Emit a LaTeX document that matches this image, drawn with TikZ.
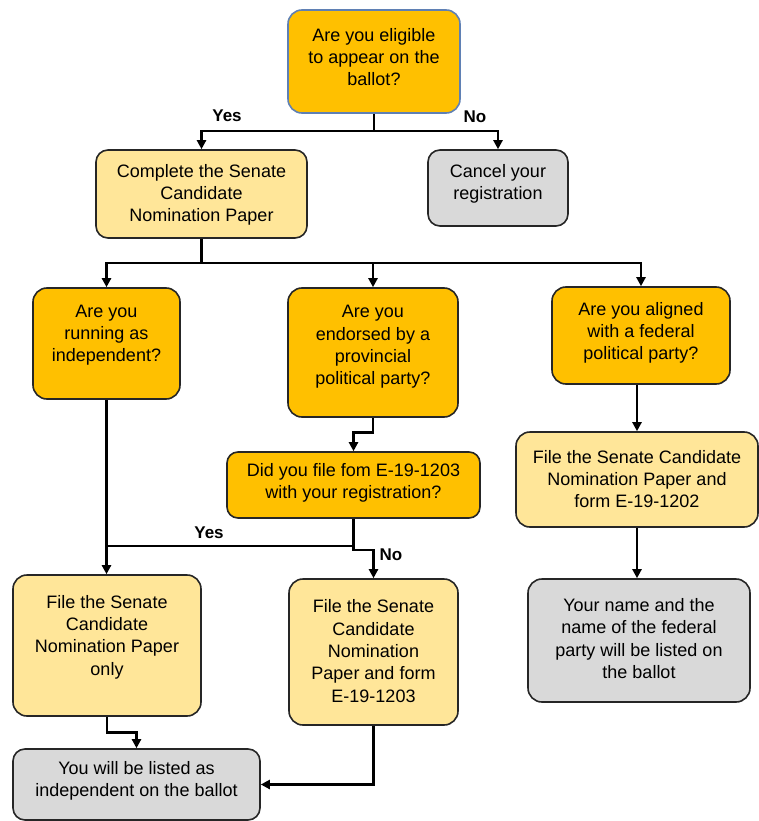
\documentclass[tikz,border=0pt]{standalone}
\usepackage{fontspec}
\setmainfont{Liberation Sans}
\usetikzlibrary{arrows.meta}
\definecolor{gold}{HTML}{FFC000}
\definecolor{lightgold}{HTML}{FFE699}
\definecolor{boxgray}{HTML}{D9D9D9}
\definecolor{edge}{HTML}{262626}
\definecolor{blueedge}{RGB}{95,128,180}
\tikzset{
  box/.style={draw=edge, line width=1.6pt, rounded corners=14pt, inner sep=0pt},
  qbox/.style={box, fill=gold},
  fbox/.style={box, fill=lightgold},
  gbox/.style={box, fill=boxgray},
  txt/.style={align=center, inner sep=0pt, font=\fontsize{18}{22.3}\selectfont, text=black},
  lbl/.style={inner sep=0pt, font=\bfseries\fontsize{17}{20}\selectfont},
  conn/.style={line width=2.7pt, draw=black},
  arr/.style={conn, -{Triangle[length=9pt,width=9pt]}},
}
\begin{document}
\begin{tikzpicture}[x=1pt,y=-1pt]
\clip (0,0) rectangle (759,821);
\fill[white] (0,0) rectangle (759,821);
% boxes
\node[qbox, draw=blueedge, minimum width=172pt, minimum height=103pt] (q1) at (374,61.5) {};
\node[txt] (q1t) at (374,57) {Are you eligible\\to appear on the\\ballot?};
\node[fbox, minimum width=211pt, minimum height=88pt, rounded corners=12pt] (comp) at (201.5,194) {};
\node[txt] (compt) at (201.5,195) {Complete the Senate\\Candidate\\Nomination Paper};
\node[gbox, minimum width=140pt, minimum height=76pt, rounded corners=12pt] (canc) at (498,188) {};
\node[txt] (canct) at (498,184) {Cancel your\\registration};
\node[qbox, minimum width=147pt, minimum height=111pt] (indep) at (106.5,343.5) {};
\node[txt] (indept) at (106.5,335) {Are you\\running as\\independent?};
\node[qbox, minimum width=170pt, minimum height=129pt] (endo) at (373,352.5) {};
\node[txt] (endot) at (373,347) {Are you\\endorsed by a\\provincial\\political party?};
\node[qbox, minimum width=178pt, minimum height=97pt] (alig) at (641,335.5) {};
\node[txt] (aligt) at (641,333) {Are you aligned\\with a federal\\political party?};
\node[qbox, minimum width=253pt, minimum height=66pt, rounded corners=11pt] (did) at (353.5,485) {};
\node[txt] (didt) at (353.5,483) {Did you file fom E-19-1203\\with your registration?};
\node[fbox, minimum width=242pt, minimum height=95pt] (f1202) at (637,479.5) {};
\node[txt] (f1202t) at (637,479) {File the Senate Candidate\\Nomination Paper and\\form E-19-1202};
\node[fbox, minimum width=188pt, minimum height=141pt] (only) at (107,645.5) {};
\node[txt] (onlyt) at (107,637) {File the Senate\\Candidate\\Nomination Paper\\only};
\node[fbox, minimum width=169pt, minimum height=146pt] (f1203) at (373.5,652) {};
\node[txt] (f1203t) at (373.5,651) {File the Senate\\Candidate\\Nomination\\Paper and form\\E-19-1203};
\node[gbox, minimum width=222pt, minimum height=123pt] (yname) at (639,640.5) {};
\node[txt] (ynamet) at (639,638.5) {Your name and the\\name of the federal\\party will be listed on\\the ballot};
\node[gbox, minimum width=247pt, minimum height=71pt, rounded corners=12pt] (list) at (136.5,784.5) {};
\node[txt] (listt) at (136.5,781) {You will be listed as\\independent on the ballot};
% labels
\node[lbl] (yes1) at (227,116) {Yes};
\node[lbl] (no1) at (475,117) {No};
\node[lbl] (yes2) at (209,533) {Yes};
\node[lbl] (no2) at (391,555) {No};
% connectors
\coordinate (j1) at (374,131);
\draw[conn] (q1.south) -- (j1);
\draw[arr] (j1) -| (comp.north);
\draw[arr] (j1) -| (canc.north);
\coordinate (j2) at (201.5,263);
\draw[conn] (comp.south) -- (j2);
\draw[arr] (j2) -| (indep.north);
\draw[arr] (j2) -| (endo.north);
\draw[arr] (j2) -| (alig.north);
\draw[arr] (endo.south) -- ++(0,15) -| (did.north);
\draw[arr] (indep.south) -- (indep.south |- only.north);
\coordinate (j3) at (353.5,546);
\draw[conn] (did.south) -- (j3) -- (indep.south |- j3);
\draw[arr] (j3) -- ++(0,4) -| (f1203.north);
\draw[arr] (f1202.north |- alig.south) -- (f1202.north);
\draw[arr] (f1202.south) -- (f1202.south |- yname.north);
\draw[arr] (only.south) -- ++(0,16) -| (list.north);
\draw[arr] (f1203.south) |- (list.east);
\end{tikzpicture}
\end{document}
